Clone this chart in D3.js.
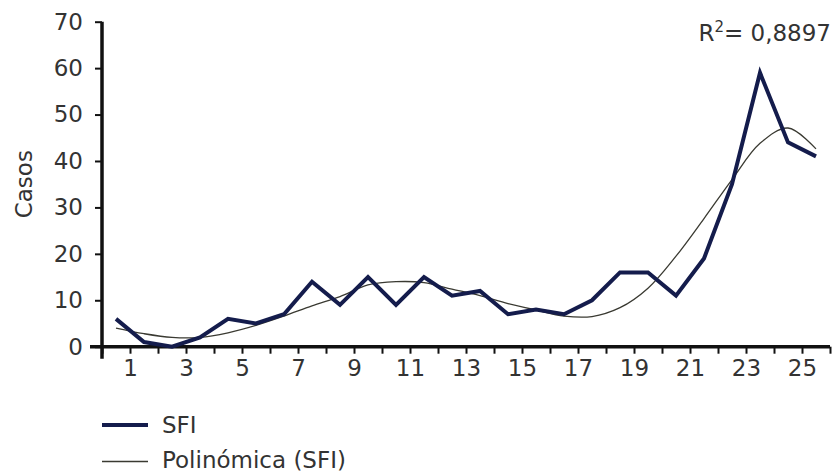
<!DOCTYPE html>
<html>
<head>
<meta charset="utf-8">
<script src="https://cdn.jsdelivr.net/npm/d3@7/dist/d3.min.js"></script>
<style>
  html, body { margin: 0; padding: 0; background: #fff; }
  svg { display: block; }
  text { font-family: "DejaVu Sans", Verdana, sans-serif; fill: #333; }
</style>
</head>
<body>
<svg id="chart" width="837" height="472"></svg>
<script>
// Weekly case counts and the polynomial trend drawn over them
const categories = [1, 2, 3, 4, 5, 6, 7, 8, 9, 10, 11, 12, 13, 14, 15, 16, 17, 18, 19, 20, 21, 22, 23, 24, 25, 26];
const sfi = [6, 1, 0, 2, 6, 5, 7, 14, 9, 15, 9, 15, 11, 12, 7, 8, 7, 10, 16, 16, 11, 19, 35, 59, 44, 41];
const trend = [4.0, 2.8, 2.0, 2.0, 3.0, 4.6, 6.6, 8.8, 10.8, 13.3, 14.0, 13.8, 12.4, 11.0, 9.3, 7.9, 6.6, 6.5, 8.4, 12.6, 19.5, 27.6, 36.0, 43.8, 47.1, 42.6];
const yTicks = [0, 10, 20, 30, 40, 50, 60, 70];
const xTickLabels = ["1", "3", "5", "7", "9", "11", "13", "15", "17", "19", "21", "23", "25"];
const seriesName = "SFI";
const trendName = "Polinómica (SFI)";
const yTitle = "Casos";
const rSquared = "0,8897";

const svg = d3.select("#chart");
const x = d3.scaleLinear().domain([0, categories.length]).range([102, 830]);
const y = d3.scaleLinear().domain([0, 70]).range([346.7, 21.7]);

const axisColor = "#111";
const textColor = "#333";
const fontSize = 23;
const fontFamily = "DejaVu Sans, Verdana, sans-serif";

// Y axis
const yAxis = svg.append("g")
  .attr("transform", `translate(${x(0)},0)`)
  .call(d3.axisLeft(y).tickValues(yTicks).tickSize(7).tickSizeOuter(0).tickPadding(12));
yAxis.select(".domain").attr("stroke", axisColor).attr("stroke-width", 3.5)
  .attr("d", `M0,${y(70)}V${y(0) + 12}`);
yAxis.selectAll(".tick line").attr("stroke", axisColor).attr("stroke-width", 2);
yAxis.selectAll(".tick text").attr("font-size", fontSize).attr("fill", textColor)
  .attr("font-family", fontFamily);

// X axis: a tick at every category boundary, labels on the odd ones
const labelSet = new Set(xTickLabels);
const xAxis = svg.append("g")
  .attr("transform", `translate(0,${y(0)})`)
  .call(d3.axisBottom(x).tickValues(d3.range(0, categories.length + 1))
    .tickSize(7).tickSizeOuter(0).tickPadding(6)
    .tickFormat(d => labelSet.has(String(d)) ? String(d) : ""));
xAxis.select(".domain").attr("stroke", axisColor).attr("stroke-width", 3.5)
  .attr("d", `M${x(0) - 12},0H${x(categories.length)}`);
xAxis.selectAll(".tick line").attr("stroke", axisColor).attr("stroke-width", 2);
xAxis.selectAll(".tick text").attr("font-size", fontSize).attr("fill", textColor)
  .attr("font-family", fontFamily);

// Y axis title
svg.append("text")
  .attr("transform", `translate(32,${(y(0) + y(70)) / 2}) rotate(-90)`)
  .attr("text-anchor", "middle")
  .attr("font-size", fontSize)
  .text(yTitle);

// Trend line
const trendLine = d3.line()
  .x((d, i) => x(categories[i] - 0.5))
  .y(d => y(d))
  .curve(d3.curveCatmullRom.alpha(0.5));
svg.append("path")
  .datum(trend)
  .attr("fill", "none")
  .attr("stroke", "#3a3a32")
  .attr("stroke-width", 1.3)
  .attr("d", trendLine);

// Case series
const seriesLine = d3.line()
  .x((d, i) => x(categories[i] - 0.5))
  .y(d => y(d));
svg.append("path")
  .datum(sfi)
  .attr("fill", "none")
  .attr("stroke", "#141c4c")
  .attr("stroke-width", 4)
  .attr("stroke-linejoin", "miter")
  .attr("d", seriesLine);

// R² annotation
const r2 = svg.append("text")
  .attr("x", 831).attr("y", 41)
  .attr("text-anchor", "end")
  .attr("font-size", fontSize);
r2.append("tspan").text("R");
r2.append("tspan").attr("font-size", 15).attr("dy", -9).text("2");
r2.append("tspan").attr("dy", 9).text("= " + rSquared);

// Legend
const legend = svg.append("g");
legend.append("line").attr("x1", 102).attr("x2", 148).attr("y1", 425).attr("y2", 425)
  .attr("stroke", "#141c4c").attr("stroke-width", 4);
legend.append("text").attr("x", 162).attr("y", 433).attr("font-size", fontSize).text(seriesName);
legend.append("line").attr("x1", 102).attr("x2", 148).attr("y1", 461.5).attr("y2", 461.5)
  .attr("stroke", "#3a3a32").attr("stroke-width", 1.3);
legend.append("text").attr("x", 162).attr("y", 468).attr("font-size", fontSize).text(trendName);
</script>
</body>
</html>
